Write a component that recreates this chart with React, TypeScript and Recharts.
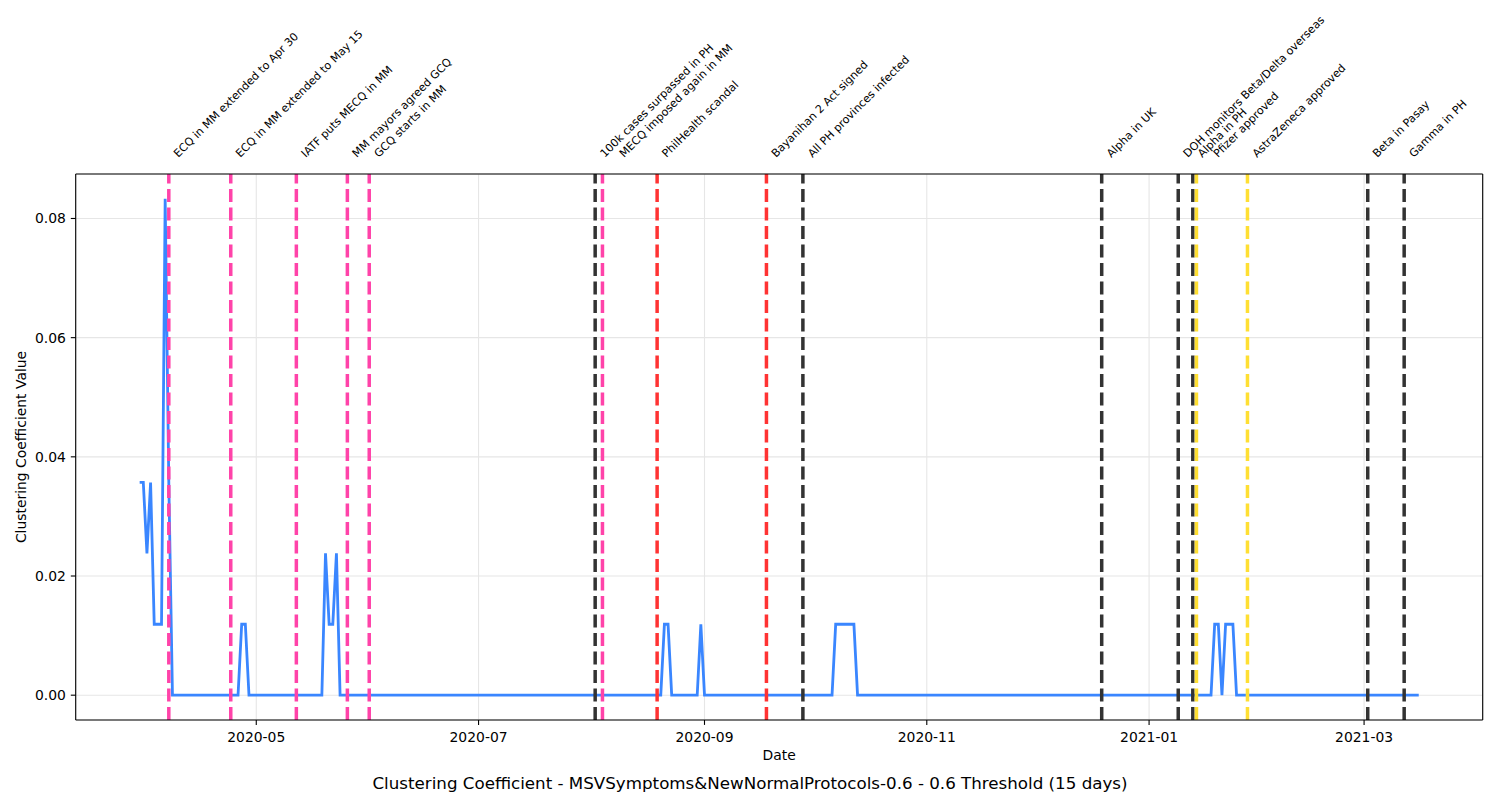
import React from 'react';
import { LineChart, Line, XAxis, YAxis, CartesianGrid, ReferenceLine } from 'recharts';

// ---- data: vertices of the series (the line is flat/linear between them) ----
const pointDates = [
  '2020-03-30', '2020-03-31', '2020-04-01', '2020-04-02', '2020-04-03', '2020-04-05',
  '2020-04-06', '2020-04-07', '2020-04-08', '2020-04-26', '2020-04-27', '2020-04-28',
  '2020-04-29', '2020-05-19', '2020-05-20', '2020-05-21', '2020-05-22', '2020-05-23',
  '2020-05-24', '2020-08-20', '2020-08-21', '2020-08-22', '2020-08-23', '2020-08-30',
  '2020-08-31', '2020-09-01', '2020-10-06', '2020-10-07', '2020-10-12', '2020-10-13',
  '2021-01-18', '2021-01-19', '2021-01-20', '2021-01-21', '2021-01-22', '2021-01-24',
  '2021-01-25', '2021-03-16',
];
const pointValues = [
  0.0357, 0.0357, 0.0238, 0.0357, 0.0119, 0.0119,
  0.0833, 0.0357, 0, 0, 0.0119, 0.0119,
  0, 0, 0.0238, 0.0119, 0.0119, 0.0238,
  0, 0, 0.0119, 0.0119, 0, 0,
  0.0119, 0, 0, 0.0119, 0.0119, 0,
  0, 0.0119, 0.0119, 0, 0.0119, 0.0119,
  0, 0,
];

// ---- events ----
const eventDates = [
  '2020-04-07', '2020-04-24', '2020-05-12', '2020-05-26', '2020-06-01',
  '2020-08-02', '2020-08-04', '2020-08-19', '2020-09-18', '2020-09-28',
  '2020-12-19', '2021-01-09', '2021-01-13', '2021-01-14', '2021-01-28',
  '2021-03-02', '2021-03-12',
];
const eventLabels = [
  'ECQ in MM extended to Apr 30', 'ECQ in MM extended to May 15', 'IATF puts MECQ in MM',
  'MM mayors agreed GCQ', 'GCQ starts in MM',
  '100k cases surpassed in PH', 'MECQ imposed again in MM', 'PhilHealth scandal',
  'Bayanihan 2 Act signed', 'All PH provinces infected',
  'Alpha in UK', 'DOH monitors Beta/Delta overseas', 'Alpha in PH', 'Pfizer approved',
  'AstraZeneca approved', 'Beta in Pasay', 'Gamma in PH',
];
const eventKinds = [
  'policy', 'policy', 'policy', 'policy', 'policy',
  'milestone', 'policy', 'government', 'government', 'milestone',
  'milestone', 'milestone', 'milestone', 'vaccine', 'vaccine',
  'milestone', 'milestone',
];

const xTickDates = ['2020-05-01', '2020-07-01', '2020-09-01', '2020-11-01', '2021-01-01', '2021-03-01'];
const yTicks = [0, 0.02, 0.04, 0.06, 0.08];

const TITLE = 'Clustering Coefficient - MSVSymptoms&NewNormalProtocols-0.6 - 0.6 Threshold (15 days)';
const X_LABEL = 'Date';
const Y_LABEL = 'Clustering Coefficient Value';

// ---- styles / layout ----
const KIND_COLORS: Record<string, string> = {
  policy: '#ff43a9',
  milestone: '#333333',
  government: '#ff3333',
  vaccine: '#ffdf33',
};
const LABEL_EXTRA_NUDGE = [0, 0, 0, 0, 0, 0, 12, 0, 0, 0, 0, 0, 0, 12, 0, 0, 0];
const FONT = '"DejaVu Sans", Verdana, sans-serif';
const W = 1500;
const H = 800;
const PLOT_LEFT = 75.7;
const PLOT_TOP = 174;
const PLOT_RIGHT = 1482.7;
const PLOT_BOTTOM = 720;
const Y_AXIS_W = 60;
const X_AXIS_H = 30;

const toTs = (d: string) => Date.parse(d + 'T00:00:00Z');

const data = pointDates.map((d, i) => ({ t: toTs(d), v: pointValues[i] }));
const tMin = toTs(pointDates[0]);
const tMax = toTs(pointDates[pointDates.length - 1]);
const tPad = (tMax - tMin) * 0.05;
const xDomain: [number, number] = [tMin - tPad, tMax + tPad];
const vMax = Math.max(...pointValues);
const vMin = Math.min(...pointValues);
const vPad = (vMax - vMin) * 0.05;
const yDomain: [number, number] = [vMin - vPad, vMax + vPad];
const xTicks = xTickDates.map(toTs);

const fmtMonth = (ts: number) => {
  const d = new Date(ts);
  return `${d.getUTCFullYear()}-${String(d.getUTCMonth() + 1).padStart(2, '0')}`;
};

const makeLabel = (text: string, nudge: number) => (props: any) => {
  const vb = props.viewBox || {};
  const x = (vb.x ?? props.x ?? 0) + 9.5 + nudge;
  const y = PLOT_TOP - 16;
  return (
    <text
      transform={`translate(${x},${y}) rotate(-45)`}
      fontSize={11.1}
      fontFamily={FONT}
      fill="#000"
    >
      {text}
    </text>
  );
};

export default function App() {
  return (
    <div style={{ position: 'absolute', left: 0, top: 0, width: W, height: H, background: '#fff' }}>
      <LineChart
        width={W}
        height={H}
        data={data}
        margin={{
          top: PLOT_TOP,
          right: W - PLOT_RIGHT,
          bottom: H - PLOT_BOTTOM - X_AXIS_H,
          left: PLOT_LEFT - Y_AXIS_W,
        }}
      >
        <CartesianGrid stroke="#e6e6e6" strokeWidth={1.1} />
        <XAxis
          dataKey="t"
          type="number"
          domain={xDomain}
          allowDataOverflow
          ticks={xTicks}
          tickFormatter={fmtMonth}
          height={X_AXIS_H}
          tickSize={4.9}
          tickMargin={7}
          tick={{ fontSize: 13.9, fill: '#000', fontFamily: FONT }}
          tickLine={{ stroke: '#000', strokeWidth: 1.1 }}
          axisLine={{ stroke: '#000', strokeWidth: 1.1 }}
        />
        <YAxis
          type="number"
          domain={yDomain}
          allowDataOverflow
          ticks={yTicks}
          tickFormatter={(v: number) => v.toFixed(2)}
          width={Y_AXIS_W}
          tickSize={4.9}
          tickMargin={4.9}
          tick={{ fontSize: 13.9, fill: '#000', fontFamily: FONT }}
          tickLine={{ stroke: '#000', strokeWidth: 1.1 }}
          axisLine={{ stroke: '#000', strokeWidth: 1.1 }}
        />
        <Line
          type="linear"
          dataKey="v"
          stroke="#3a86ff"
          strokeWidth={2.8}
          dot={false}
          activeDot={false}
          isAnimationActive={false}
        />
        {eventDates.map((d, i) => (
          <ReferenceLine
            key={d + i}
            x={toTs(d)}
            stroke={KIND_COLORS[eventKinds[i]]}
            strokeWidth={3.5}
            strokeDasharray="12.9 5.6"
            ifOverflow="visible"
            label={makeLabel(eventLabels[i], LABEL_EXTRA_NUDGE[i])}
          />
        ))}
        {/* top and right frame of the axes box */}
        <ReferenceLine y={yDomain[1]} stroke="#000" strokeWidth={1.1} ifOverflow="visible" />
        <ReferenceLine x={xDomain[1]} stroke="#000" strokeWidth={1.1} ifOverflow="visible" />
      </LineChart>
      <svg
        width={W}
        height={H}
        style={{ position: 'absolute', left: 0, top: 0, pointerEvents: 'none' }}
      >
        <text x={(PLOT_LEFT + PLOT_RIGHT) / 2} y={760} textAnchor="middle" fontSize={13.9} fontFamily={FONT} fill="#000">
          {X_LABEL}
        </text>
        <text
          transform={`translate(25.5,${(PLOT_TOP + PLOT_BOTTOM) / 2}) rotate(-90)`}
          textAnchor="middle"
          fontSize={13.9}
          fontFamily={FONT}
          fill="#000"
        >
          {Y_LABEL}
        </text>
        <text x={W / 2} y={789} textAnchor="middle" fontSize={16.7} fontFamily={FONT} fill="#000">
          {TITLE}
        </text>
      </svg>
    </div>
  );
}
